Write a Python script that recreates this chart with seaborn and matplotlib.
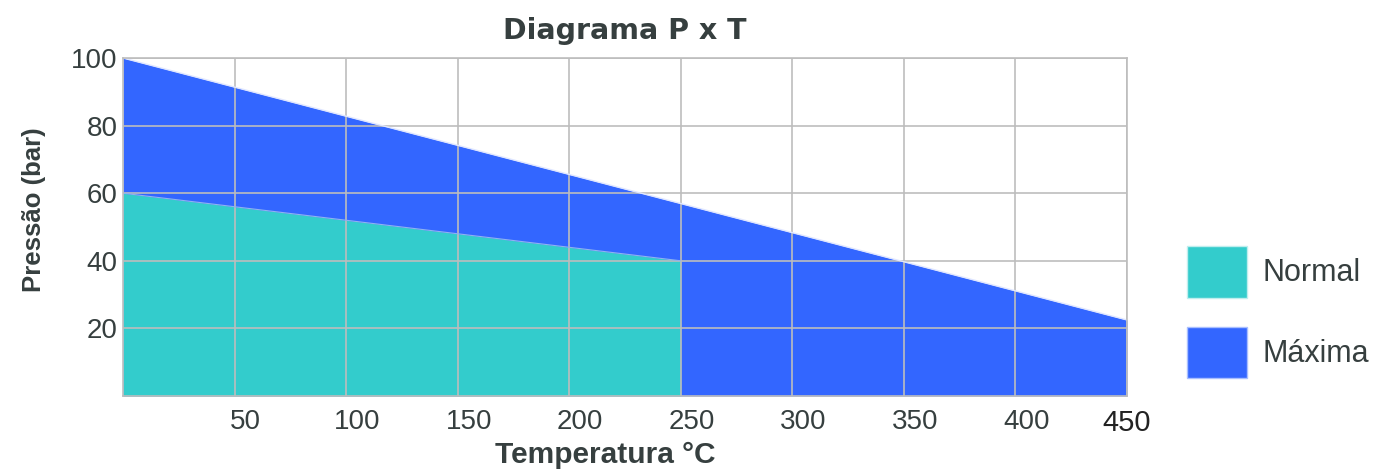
import matplotlib
matplotlib.use("Agg")
import matplotlib.pyplot as plt
import matplotlib.transforms as mtransforms
from matplotlib.patches import Patch
import seaborn as sns
import pandas as pd

# data
temps_max = [0, 450]
pres_max = [100, 22.5]
temps_normal = [0, 250]
pres_normal = [60, 40]
x_ticks = [50, 100, 150, 200, 250, 300, 350, 400, 450]
y_ticks = [20, 40, 60, 80, 100]
series_names = ["Normal", "Máxima"]

color_normal = "#33CCCC"
color_max = "#3366FF"
text_color = "#363f3f"
grid_color = "#bdbdbd"

sns.set_theme(style="white")
plt.rcParams['font.family'] = ['Liberation Sans', 'DejaVu Sans']

df_max = pd.DataFrame({"T": temps_max, "P": pres_max})
df_normal = pd.DataFrame({"T": temps_normal, "P": pres_normal})

fig = plt.figure(figsize=(13.85, 4.75), dpi=100)
ax = fig.add_axes([0.0888, 0.1663, 0.7249, 0.7116])

# filled areas (Máxima below, Normal on top)
ax.fill_between(df_max["T"], df_max["P"], 0, color=color_max, lw=0, zorder=1)
ax.fill_between(df_normal["T"], df_normal["P"], 0, color=color_normal, lw=0, zorder=2)
sns.lineplot(data=df_max, x="T", y="P", ax=ax, color="#dfe6ff", lw=1, zorder=3)
sns.lineplot(data=df_normal, x="T", y="P", ax=ax, color="#8fb3f0", lw=0.8, zorder=3)

ax.set_xlim(0, 450)
ax.set_ylim(0, 100)
ax.set_xticks(x_ticks)
ax.set_yticks(y_ticks)
ax.grid(True, color=grid_color, lw=1.2, zorder=4)
ax.set_axisbelow(False)
for sp in ax.spines.values():
    sp.set_color(grid_color)
    sp.set_linewidth(1.2)
    sp.set_zorder(5)

ax.tick_params(axis="both", length=0, labelsize=20, labelcolor=text_color)
ax.tick_params(axis="x", pad=9)
ax.tick_params(axis="y", pad=4)

# x tick labels sit a bit to the right of their grid line (except the last one)
offset = mtransforms.ScaledTranslation(11 / 100, 0, fig.dpi_scale_trans)
xlabels = ax.get_xticklabels()
for lab in xlabels[:-1]:
    lab.set_transform(lab.get_transform() + offset)
xlabels[-1].set_color("#222222")
xlabels[-1].set_fontsize(21)

ax.set_xlabel("Temperatura °C", fontsize=21.5, fontweight="bold", color=text_color)
ax.xaxis.set_label_coords(0.48, -0.133)
ax.set_ylabel("Pressão (bar)", fontsize=18.5, fontweight="bold", color=text_color)
ax.yaxis.set_label_coords(-0.077, 0.55)
ax.set_title("Diagrama P x T", fontsize=20.5, fontweight="bold", color=text_color,
             family="DejaVu Sans", pad=14)

handles = [Patch(facecolor=color_normal, edgecolor="#bfeeee", lw=1),
           Patch(facecolor=color_max, edgecolor="#a9bfff", lw=1)]
leg = fig.legend(handles, series_names, loc="upper left", bbox_to_anchor=(0.857, 0.482),
                 frameon=False, fontsize=22, handlelength=1.96, handleheight=2.22,
                 labelspacing=0.95, handletextpad=0.5, borderaxespad=0, borderpad=0)
for t in leg.get_texts():
    t.set_color(text_color)

fig.savefig("out.png", dpi=100)
